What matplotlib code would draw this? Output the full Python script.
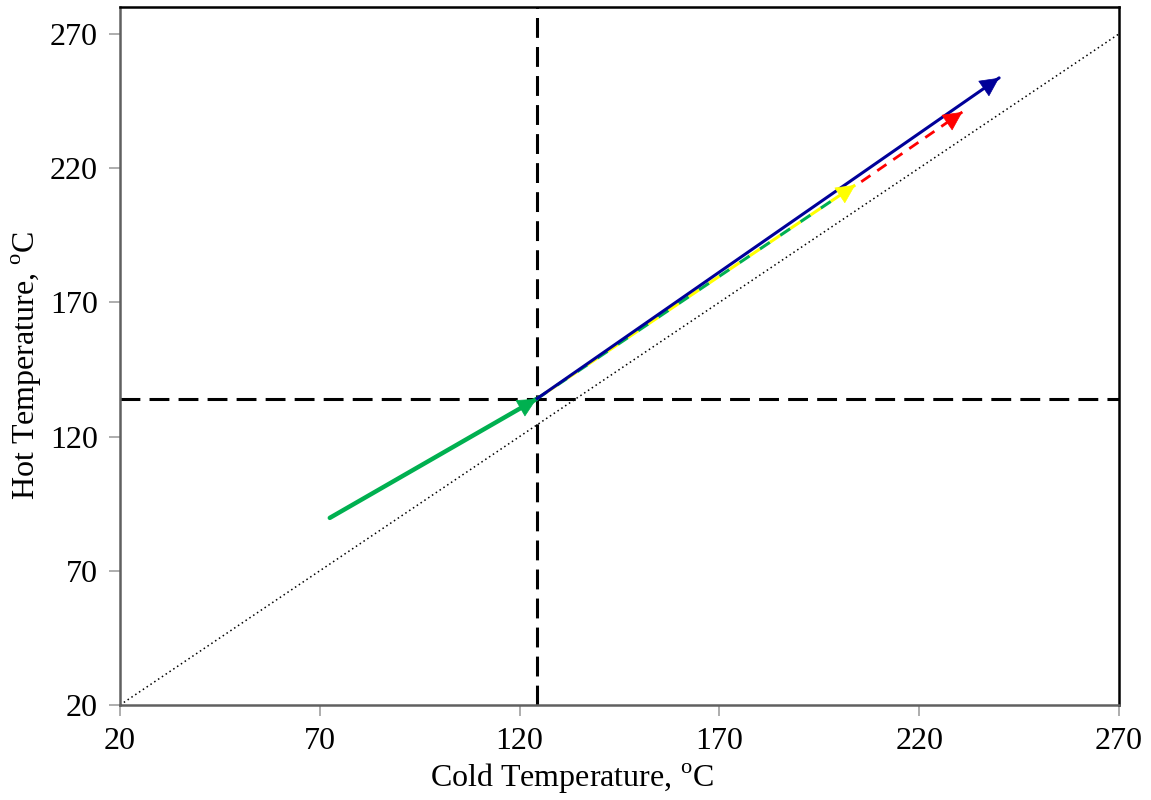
import matplotlib.pyplot as plt

plt.rcParams['font.family'] = ['Liberation Serif', 'DejaVu Serif']
plt.rcParams['mathtext.fontset'] = 'custom'
plt.rcParams['mathtext.rm'] = 'Liberation Serif'

# pinch point temperatures
cold_pinch = 124.25
hot_pinch = 134.0

# stream segments: (cold start, hot start) -> (cold end, hot end)
green_x = [72.5, 124.25]
green_y = [89.7, 134.0]
blue_x = [124.25, 240.0]
blue_y = [134.0, 253.6]
yellow_x = [124.25, 204.0]
yellow_y = [134.0, 213.7]
red_x = [205.5, 230.8]
red_y = [214.9, 240.9]

ticks = [20, 70, 120, 170, 220, 270]

fig = plt.figure(figsize=(11.51, 8.0), dpi=100)
ax = fig.add_axes([120 / 1151, 1 - 705 / 800, 999 / 1151, 698 / 800])

# equal-temperature diagonal
ax.plot([20, 270], [20, 270], color='black', lw=1.1, linestyle=(0, (1, 2)))

# pinch lines
ax.axvline(cold_pinch, color='black', lw=2.2, linestyle=(0, (6.5, 3)))
ax.axhline(hot_pinch, color='black', lw=2.2, linestyle=(0, (6.5, 3)))


def arrow(xs, ys, color, lw, ls='-', head=32):
    ax.plot(xs, ys, color=color, lw=lw, linestyle=ls, solid_capstyle='round')
    dx = xs[1] - xs[0]
    dy = ys[1] - ys[0]
    ax.annotate('', xy=(xs[1], ys[1]), xytext=(xs[1] - 0.05 * dx, ys[1] - 0.05 * dy),
                arrowprops=dict(arrowstyle='-|>', color=color, lw=0.5,
                                mutation_scale=head, shrinkA=0, shrinkB=0))


arrow(green_x, green_y, '#00B050', 3.2)
# green and yellow dashes overlaid on the same path
ax.plot(yellow_x, yellow_y, color='#00B050', lw=2.2, linestyle=(0, (4, 4)))
arrow(yellow_x, yellow_y, '#FFFF00', 2.2, ls=(4, (4, 4)))
arrow(red_x, red_y, '#FF0000', 2.0, ls=(0, (4, 3)))
arrow(blue_x, blue_y, '#000099', 2.2)

ax.set_xlim(20, 270)
ax.set_ylim(20, 280)
ax.set_xticks(ticks)
ax.set_yticks(ticks)
ax.tick_params(axis='both', labelsize=23, direction='out', length=8, width=1.2,
               color='#A0A0A0', pad=8)

for side in ['left', 'bottom']:
    ax.spines[side].set_color('#606060')
    ax.spines[side].set_linewidth(1.8)
for side in ['top', 'right']:
    ax.spines[side].set_color('black')
    ax.spines[side].set_linewidth(1.8)

ax.set_xlabel(r'Cold Temperature, $^{\mathrm{o}}$C', fontsize=23, va='center')
ax.xaxis.set_label_coords(0.452, -0.106)
ax.set_ylabel(r'Hot Temperature, $^{\mathrm{o}}$C', fontsize=23, va='center')
ax.yaxis.set_label_coords(-0.093, 0.487)

fig.savefig('out.png', dpi=100)
